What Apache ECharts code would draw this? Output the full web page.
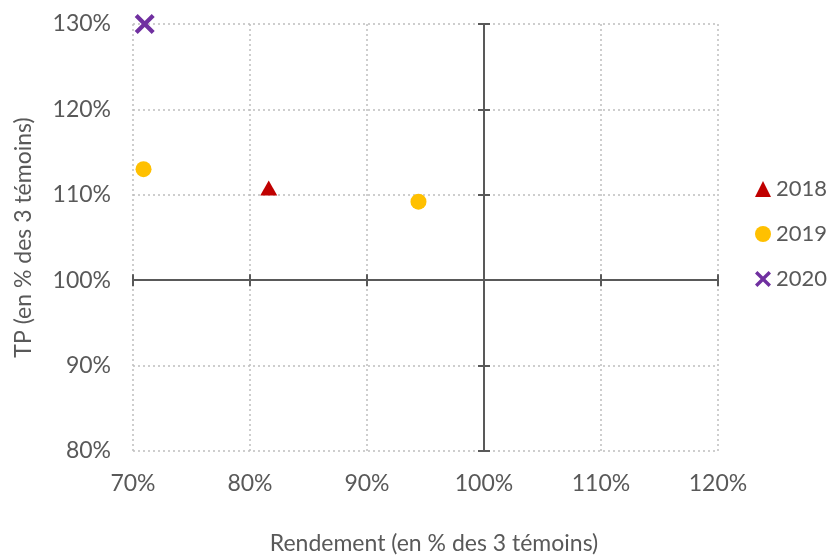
<!DOCTYPE html>
<html>
<head>
<meta charset="utf-8">
<script src="https://cdn.jsdelivr.net/npm/echarts@6/dist/echarts.min.js"></script>
<style>html,body{margin:0;padding:0;background:#fff;}#c{width:828px;height:555px;}</style>
</head>
<body>
<div id="c"></div>
<script>
// Data (values in %)
const seriesNames = ['2018', '2019', '2020'];
const rendement2018 = [81.6];
const tp2018 = [110.8];
const rendement2019 = [70.9, 94.4];
const tp2019 = [113.0, 109.2];
const rendement2020 = [71.0];
const tp2020 = [130.0];
const xTicks = [70, 80, 90, 100, 110, 120];
const yTicks = [80, 90, 100, 110, 120, 130];
const crossX = 100, crossY = 100;

const FONT = 'Lato';
const TXT = '#595959';
const LINE = '#595959';
const xPath = 'path://M0,3 L3,0 L10,7 L17,0 L20,3 L13,10 L20,17 L17,20 L10,13 L3,20 L0,17 L7,10 Z';

function pts(xs, ys) { return xs.map((x, i) => [x - crossX, ys[i] - crossY]); }

const xMin = xTicks[0] - crossX, xMax = xTicks[xTicks.length - 1] - crossX;
const yMin = yTicks[0] - crossY, yMax = yTicks[yTicks.length - 1] - crossY;
const step = 10;

function lineAxis(dim, inside) {
  return {
    type: 'value', min: dim === 'x' ? xMin : yMin, max: dim === 'x' ? xMax : yMax, interval: step,
    axisLine: { show: true, onZero: true, onZeroAxisIndex: 0, lineStyle: { color: LINE, width: 2 } },
    axisTick: { show: true, inside: inside, length: 6, lineStyle: { color: LINE, width: 2 } },
    axisLabel: { show: false }, splitLine: { show: false }
  };
}

const chart = echarts.init(document.getElementById('c'));
chart.setOption({
  backgroundColor: '#fff',
  animation: false,
  textStyle: { fontFamily: FONT },
  grid: { left: 133, right: 110, top: 24, bottom: 104, containLabel: false, outerBoundsMode: 'none' },
  legend: {
    orient: 'vertical', left: 750, top: 173, itemGap: 23, itemWidth: 16, itemHeight: 16,
    textStyle: { fontFamily: FONT, fontSize: 22, color: TXT, lineHeight: 22 },
    data: [
      { name: seriesNames[0], icon: 'triangle' },
      { name: seriesNames[1], icon: 'circle' },
      { name: seriesNames[2], icon: xPath }
    ]
  },
  xAxis: [
    {
      type: 'value', min: xMin, max: xMax, interval: step, position: 'bottom',
      axisLine: { show: false, onZero: false }, axisTick: { show: false },
      axisLabel: { margin: 21, fontFamily: FONT, fontSize: 23, color: TXT, formatter: v => (v + crossX) + '%' },
      splitLine: { show: true, lineStyle: { color: '#bfbfbf', type: [2, 3], width: 1.5 } },
      name: 'Rendement (en % des 3 témoins)', nameLocation: 'middle', nameGap: 81,
      nameTextStyle: { fontFamily: FONT, fontSize: 23, color: TXT, padding: [0, 0, 0, 17] }
    },
    lineAxis('x', false),
    lineAxis('x', true)
  ],
  yAxis: [
    {
      type: 'value', min: yMin, max: yMax, interval: step, position: 'left',
      axisLine: { show: false, onZero: false }, axisTick: { show: false },
      axisLabel: { margin: 22, fontFamily: FONT, fontSize: 23, color: TXT, formatter: v => (v + crossY) + '%' },
      splitLine: { show: true, lineStyle: { color: '#bfbfbf', type: [2, 3], width: 1.5 } },
      name: 'TP (en % des 3 témoins)', nameLocation: 'middle', nameGap: 98,
      nameTextStyle: { fontFamily: FONT, fontSize: 23, color: TXT }
    },
    lineAxis('y', false),
    lineAxis('y', true)
  ],
  series: [
    { name: seriesNames[0], type: 'scatter', symbol: 'triangle', symbolSize: [17, 15],
      itemStyle: { color: '#C00000', opacity: 1 }, data: pts(rendement2018, tp2018), z: 5 },
    { name: seriesNames[1], type: 'scatter', symbol: 'circle', symbolSize: 16,
      itemStyle: { color: '#FFC000', opacity: 1 }, data: pts(rendement2019, tp2019), z: 5 },
    { name: seriesNames[2], type: 'scatter', symbol: xPath, symbolSize: 20, symbolKeepAspect: true,
      itemStyle: { color: '#7030A0', opacity: 1 }, data: pts(rendement2020, tp2020), z: 5 }
  ]
});
</script>
</body>
</html>
